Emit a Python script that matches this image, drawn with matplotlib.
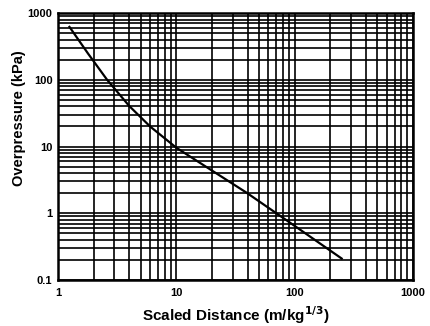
import numpy as np
import matplotlib.pyplot as plt
from matplotlib.ticker import LogLocator, FixedLocator, FixedFormatter, NullFormatter

plt.rcParams['font.family'] = ['Liberation Sans', 'DejaVu Sans']
plt.rcParams['font.weight'] = 'bold'

# overpressure vs scaled distance
scaled_distance = [1.25, 1.8, 2.6, 4.0, 6.0, 10.0, 19.5, 39.0, 86.0, 250.0]
overpressure = [620, 245, 100, 40.5, 20.0, 9.6, 4.5, 2.05, 0.78, 0.21]

x_ticks = [1, 10, 100, 1000]
x_labels = ["1", "10", "100", "1000"]
y_ticks = [0.1, 1, 10, 100, 1000]
y_labels = ["0.1", "1", "10", "100", "1000"]

fig = plt.figure(figsize=(4.31, 3.26), dpi=100)
ax = fig.add_axes([0.1346, 0.141, 0.8234, 0.819])

ax.plot(scaled_distance, overpressure, color="black", linewidth=1.6)

ax.set_xscale("log")
ax.set_yscale("log")
ax.set_xlim(1, 1000)
ax.set_ylim(0.1, 1000)

for axis, ticks, labels in ((ax.xaxis, x_ticks, x_labels), (ax.yaxis, y_ticks, y_labels)):
    axis.set_major_locator(FixedLocator(ticks))
    axis.set_major_formatter(FixedFormatter(labels))
    axis.set_minor_locator(LogLocator(base=10, subs=np.arange(2, 10)))
    axis.set_minor_formatter(NullFormatter())

ax.grid(which="both", color="black", linewidth=1.2)
ax.tick_params(which="both", length=0, labelsize=8)
ax.tick_params(axis="x", pad=6)
ax.tick_params(axis="y", pad=4)
for spine in ax.spines.values():
    spine.set_linewidth(1.8)

ax.set_xlabel("Scaled Distance (m/kg$^{\\mathbf{1/3}}$)", fontsize=11, fontweight="bold", labelpad=4)
fig.text(19 / 431, 1 - 118 / 326, "Overpressure (kPa)", rotation=90,
         ha="center", va="center", fontsize=10.5, fontweight="bold")

fig.savefig("out.png", dpi=100)
